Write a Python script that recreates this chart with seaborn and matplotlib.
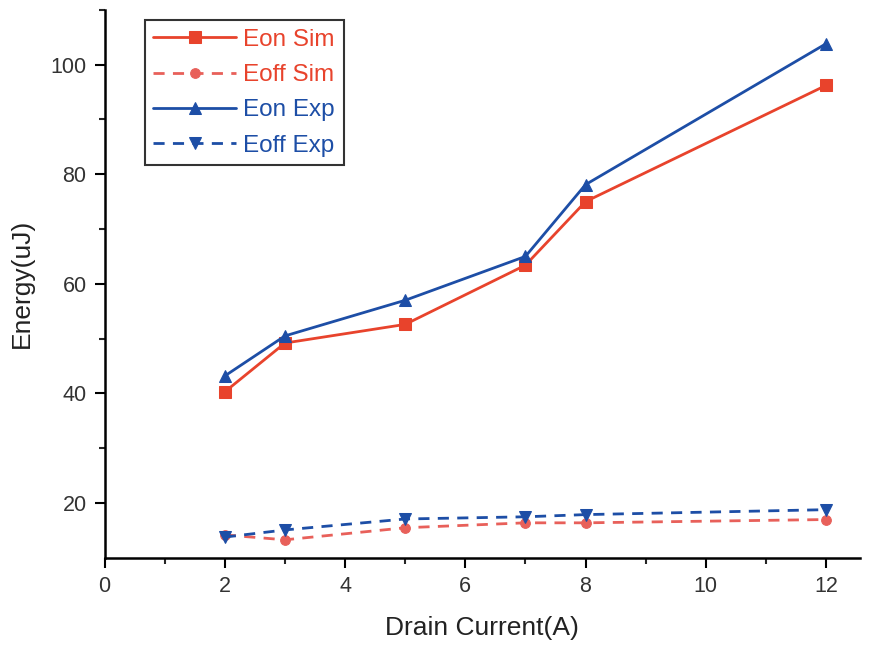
import numpy as np
import pandas as pd
import seaborn as sns
import matplotlib.pyplot as plt

current = [2, 3, 5, 7, 8, 12]
eon_sim = [40.3, 49.2, 52.6, 63.4, 75.0, 96.2]
eoff_sim = [14.2, 13.3, 15.5, 16.4, 16.4, 17.0]
eon_exp = [43.2, 50.5, 57.0, 65.0, 78.1, 103.8]
eoff_exp = [13.8, 15.1, 17.1, 17.5, 17.9, 18.8]

RED = '#e8432c'
BLUE = '#1d4ea6'

sns.set_style('ticks')
plt.rcParams['font.family'] = ['Liberation Sans', 'DejaVu Sans']

fig = plt.figure(figsize=(8.79, 6.51), dpi=100)
ax = fig.add_axes([0.119, 0.143, 0.859, 0.842])

series = [
    ('Eon Sim', eon_sim, RED, 's', '-', 8),
    ('Eoff Sim', eoff_sim, '#e8605a', 'o', '--', 7),
    ('Eon Exp', eon_exp, BLUE, '^', '-', 9),
    ('Eoff Exp', eoff_exp, BLUE, 'v', '--', 9),
]
for name, vals, col, mk, ls, ms in series:
    df = pd.DataFrame({'x': current, 'y': vals})
    sns.lineplot(data=df, x='x', y='y', ax=ax, color=col, marker=mk, linestyle=ls,
                 markersize=ms, markeredgecolor=col, linewidth=2, label=name)
for line in ax.get_lines():
    if line.get_linestyle() == '--':
        line.set_dashes([4, 3])

ax.set_xlim(0, 12.56)
ax.set_ylim(10, 110)
ax.set_xticks([0, 2, 4, 6, 8, 10, 12])
ax.set_xticks([1, 3, 5, 7, 9, 11], minor=True)
ax.set_yticks([20, 40, 60, 80, 100])
ax.set_yticks([30, 50, 70, 90, 110], minor=True)
ax.tick_params(axis='both', which='major', labelsize=15.5, length=7, width=1.5, direction='out', colors='black', pad=6)
ax.tick_params(axis='both', which='minor', length=4, width=1.5, direction='out')
for lab in ax.get_xticklabels() + ax.get_yticklabels():
    lab.set_color('#333333')
sns.despine(ax=ax)
for s in ['left', 'bottom']:
    ax.spines[s].set_linewidth(1.8)
    ax.spines[s].set_color('black')

ax.set_xlabel('Drain Current(A)', fontsize=19, color='#222222', labelpad=14)
ax.set_ylabel('Energy(uJ)', fontsize=19, color='#222222', labelpad=12)

leg = ax.legend(loc='upper left', bbox_to_anchor=(0.047, 0.99), fontsize=17.5, frameon=True,
                fancybox=False, edgecolor='black', handlelength=3.4, borderpad=0.35,
                labelspacing=0.55, handletextpad=0.3, borderaxespad=0.2)
leg.get_frame().set_linewidth(1.5)
colors = [RED, RED, BLUE, BLUE]
for txt, c in zip(leg.get_texts(), colors):
    txt.set_color(c)

fig.savefig('out.png', dpi=100)
